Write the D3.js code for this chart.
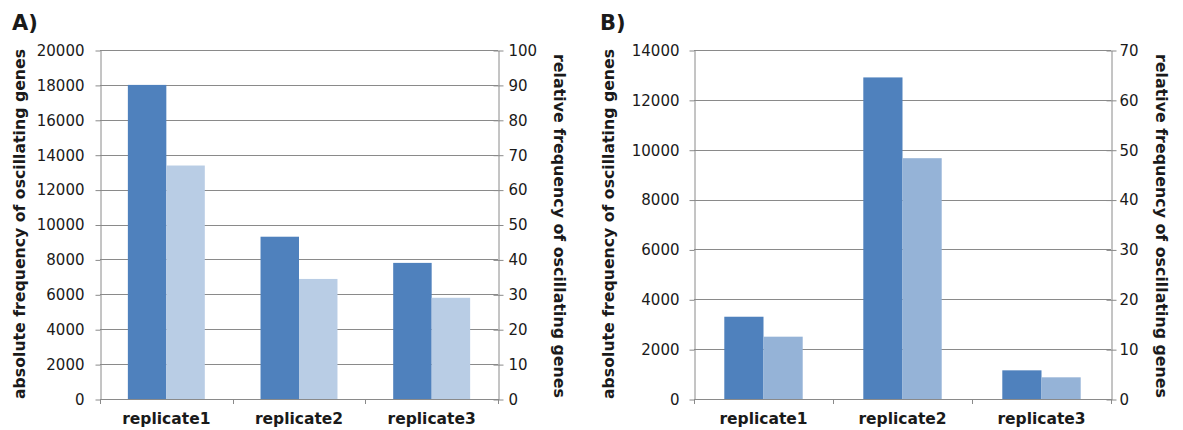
<!DOCTYPE html>
<html>
<head>
<meta charset="utf-8">
<script src="https://cdn.jsdelivr.net/npm/d3@7"></script>
<style>
  body { margin: 0; background: #fff; }
  svg text { font-family: "DejaVu Sans", sans-serif; fill: #1a1a1a; }
</style>
</head>
<body>
<div id="chart"></div>
<script>
// Data
var categories = ["replicate1", "replicate2", "replicate3"];

// Panel A
var absoluteA = [18000, 9300, 7800];
var relativeA = [66.9, 34.4, 29.0];
var leftTicksA = [0, 2000, 4000, 6000, 8000, 10000, 12000, 14000, 16000, 18000, 20000];
var rightTicksA = [0, 10, 20, 30, 40, 50, 60, 70, 80, 90, 100];

// Panel B
var absoluteB = [3300, 12900, 1150];
var relativeB = [12.5, 48.3, 4.35];
var leftTicksB = [0, 2000, 4000, 6000, 8000, 10000, 12000, 14000];
var rightTicksB = [0, 10, 20, 30, 40, 50, 60, 70];

var leftTitle = "absolute frequency of oscillating genes";
var rightTitle = "relative frequency of oscillating genes";

var svg = d3.select("#chart")
  .append("svg")
  .attr("width", 1183)
  .attr("height", 430);

// Build one panel (primary bars on left axis, secondary on right axis)
function buildPanel(opts) {
  var g = svg.append("g");
  var top = 50, bottom = 399;

  var x = d3.scaleBand()
    .domain(categories)
    .range([opts.left, opts.right])
    .paddingInner(opts.padIn)
    .paddingOuter(opts.padIn / 2);

  var x1 = d3.scaleBand()
    .domain([0, 1])
    .range([0, x.bandwidth()]);

  var yLeft = d3.scaleLinear()
    .domain([0, d3.max(opts.leftTicks)])
    .range([bottom, top]);

  var yRight = d3.scaleLinear()
    .domain([0, d3.max(opts.rightTicks)])
    .range([bottom, top]);

  // gridlines
  g.append("g")
    .selectAll("line")
    .data(opts.leftTicks)
    .enter()
    .append("line")
    .attr("x1", opts.left)
    .attr("x2", opts.right)
    .attr("y1", d => Math.round(yLeft(d)) + 0.5)
    .attr("y2", d => Math.round(yLeft(d)) + 0.5)
    .attr("stroke", "#8a8a8a")
    .attr("stroke-width", 1);

  // primary bars
  g.append("g")
    .selectAll("rect")
    .data(opts.absolute)
    .enter()
    .append("rect")
    .attr("x", (d, i) => x(categories[i]) + x1(0))
    .attr("y", d => yLeft(d))
    .attr("width", x1.bandwidth())
    .attr("height", d => bottom - yLeft(d))
    .attr("fill", "#4f81bd");

  // secondary bars
  g.append("g")
    .selectAll("rect")
    .data(opts.relative)
    .enter()
    .append("rect")
    .attr("x", (d, i) => x(categories[i]) + x1(1))
    .attr("y", d => yRight(d))
    .attr("width", x1.bandwidth())
    .attr("height", d => bottom - yRight(d))
    .attr("fill", opts.light);

  // left axis
  var leftAxis = d3.axisLeft(yLeft)
    .tickValues(opts.leftTicks)
    .tickFormat(d3.format("d"))
    .tickSize(5)
    .tickPadding(opts.leftPad)
    .tickSizeOuter(0);
  var la = g.append("g")
    .attr("transform", `translate(${opts.left + 0.5}, 0.5)`)
    .call(leftAxis);

  // right axis
  var rightAxis = d3.axisRight(yRight)
    .tickValues(opts.rightTicks)
    .tickFormat(d3.format("d"))
    .tickSize(5)
    .tickPadding(opts.rightPad)
    .tickSizeOuter(0);
  var ra = g.append("g")
    .attr("transform", `translate(${opts.right + 0.5}, 0.5)`)
    .call(rightAxis);
  // right ticks cross the axis
  ra.selectAll(".tick line").attr("x1", -5);

  // bottom axis with ticks between categories
  g.append("line")
    .attr("x1", opts.left)
    .attr("x2", opts.right + 1)
    .attr("y1", bottom + 0.5)
    .attr("y2", bottom + 0.5)
    .attr("stroke", "#8a8a8a");
  var boundaries = d3.range(categories.length + 1)
    .map(i => opts.left + i * x.step());
  g.append("g")
    .selectAll("line")
    .data(boundaries)
    .enter()
    .append("line")
    .attr("x1", d => Math.round(d) + 0.5)
    .attr("x2", d => Math.round(d) + 0.5)
    .attr("y1", bottom)
    .attr("y2", bottom + 5)
    .attr("stroke", "#8a8a8a");

  // category labels
  g.append("g")
    .selectAll("text")
    .data(categories)
    .enter()
    .append("text")
    .attr("x", d => x(d) + x.bandwidth() / 2)
    .attr("y", 424)
    .attr("text-anchor", "middle")
    .style("font-size", "15.5px")
    .style("font-weight", "bold")
    .text(d => d);

  [la, ra].forEach(ax => {
    ax.select(".domain").attr("stroke", "#8a8a8a");
    ax.selectAll(".tick line").attr("stroke", "#8a8a8a");
    ax.selectAll(".tick text")
      .style("font-size", "15px")
      .style("font-family", "DejaVu Sans, sans-serif")
      .attr("fill", "#1a1a1a");
  });

  // axis titles
  g.append("text")
    .attr("transform", `translate(${opts.leftTitleX}, 224) rotate(-90)`)
    .attr("text-anchor", "middle")
    .attr("dominant-baseline", "central")
    .attr("textLength", 350)
    .attr("lengthAdjust", "spacingAndGlyphs")
    .style("font-size", "15px")
    .style("font-weight", "bold")
    .text(leftTitle);

  g.append("text")
    .attr("transform", `translate(${opts.rightTitleX}, 226) rotate(90)`)
    .attr("text-anchor", "middle")
    .attr("dominant-baseline", "central")
    .attr("textLength", 344)
    .attr("lengthAdjust", "spacingAndGlyphs")
    .style("font-size", "15px")
    .style("font-weight", "bold")
    .text(rightTitle);

  // panel letter
  g.append("text")
    .attr("x", opts.letterX)
    .attr("y", 30)
    .style("font-size", "21px")
    .style("font-weight", "bold")
    .text(opts.letter);
}

buildPanel({
  letter: "A)", letterX: 12,
  left: 100, right: 498, padIn: 0.42,
  absolute: absoluteA, relative: relativeA,
  leftTicks: leftTicksA, rightTicks: rightTicksA,
  light: "#b9cde5",
  leftPad: 11, rightPad: 5,
  leftTitleX: 20, rightTitleX: 559
});

buildPanel({
  letter: "B)", letterX: 600,
  left: 694, right: 1111, padIn: 0.436,
  absolute: absoluteB, relative: relativeB,
  leftTicks: leftTicksB, rightTicks: rightTicksB,
  light: "#95b3d7",
  leftPad: 10, rightPad: 3,
  leftTitleX: 609, rightTitleX: 1161
});
</script>
</body>
</html>
